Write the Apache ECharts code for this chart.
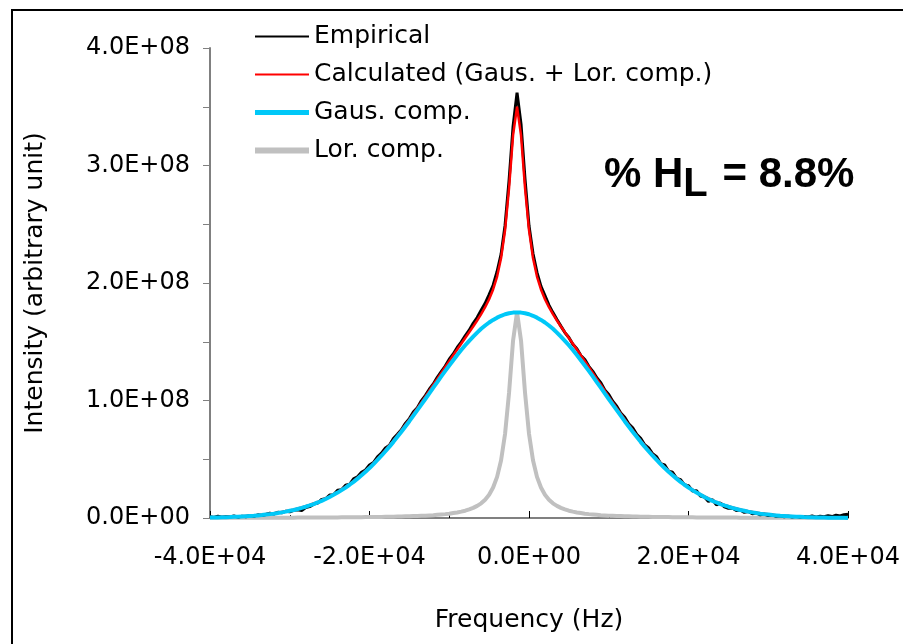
<!DOCTYPE html>
<html>
<head>
<meta charset="utf-8">
<title>Empirical vs. calculated line shape</title>
<script src="https://cdn.jsdelivr.net/npm/echarts@6/dist/echarts.min.js"></script>
<style>
  html, body { margin: 0; padding: 0; background: #fff; }
  #chart { width: 903px; height: 644px; }
</style>
</head>
<body>
<div id="chart"></div>
<script>
// Intensities are stored in units of 1E+08 (arbitrary unit).
const INTENSITY_UNIT = 1e8;

// Axis ticks
const freqTicksHz = [-40000, -20000, 0, 20000, 40000];
const intensityTicksE8 = [0, 1, 2, 3, 4];

// All curves are sampled every 500 Hz from -40000 Hz to +40000 Hz (161 samples)
const freqStartHz = -40000;
const freqStepHz = 500;

// Measured spectrum
const empiricalE8 = [
  0.012, 0.004, 0.015, 0.006, 0.013, 0.009, 0.018, 0.007, 0.016, 0.011,
  0.022, 0.015, 0.027, 0.021, 0.030, 0.041, 0.033, 0.049, 0.044, 0.058,
  0.052, 0.066, 0.071, 0.064, 0.089, 0.097, 0.118, 0.127, 0.158, 0.163,
  0.195, 0.198, 0.236, 0.241, 0.279, 0.287, 0.333, 0.351, 0.389, 0.409,
  0.451, 0.472, 0.521, 0.552, 0.596, 0.619, 0.677, 0.712, 0.751, 0.805,
  0.846, 0.901, 0.938, 0.997, 1.042, 1.096, 1.141, 1.197, 1.246, 1.293,
  1.352, 1.396, 1.451, 1.497, 1.551, 1.598, 1.657, 1.706, 1.768, 1.827,
  1.902, 1.981, 2.098, 2.246, 2.492, 2.873, 3.331, 3.620, 3.352, 2.884,
  2.487, 2.251, 2.090, 1.972, 1.893, 1.812, 1.748, 1.689, 1.633, 1.578,
  1.536, 1.479, 1.441, 1.382, 1.349, 1.291, 1.248, 1.193, 1.152, 1.089,
  1.051, 0.993, 0.952, 0.894, 0.857, 0.801, 0.768, 0.712, 0.679, 0.624,
  0.597, 0.546, 0.522, 0.463, 0.452, 0.398, 0.389, 0.337, 0.326, 0.281,
  0.275, 0.229, 0.232, 0.187, 0.178, 0.141, 0.156, 0.112, 0.128, 0.094,
  0.082, 0.086, 0.063, 0.069, 0.048, 0.055, 0.036, 0.043, 0.027, 0.033,
  0.021, 0.026, 0.014, 0.019, 0.010, 0.016, 0.008, 0.014, 0.006, 0.013,
  0.009, 0.017, 0.007, 0.015, 0.011, 0.019, 0.012, 0.024, 0.017, 0.028,
  0.031
];

// Calculated line shape (Gaussian + Lorentzian components)
const calculatedE8 = [
  0.006, 0.006, 0.007, 0.008, 0.009, 0.010, 0.012, 0.013, 0.015, 0.017,
  0.019, 0.021, 0.024, 0.027, 0.032, 0.036, 0.040, 0.045, 0.051, 0.057,
  0.064, 0.071, 0.081, 0.090, 0.100, 0.111, 0.123, 0.136, 0.151, 0.167,
  0.184, 0.202, 0.221, 0.243, 0.265, 0.289, 0.314, 0.342, 0.371, 0.402,
  0.433, 0.467, 0.503, 0.539, 0.578, 0.618, 0.659, 0.703, 0.747, 0.793,
  0.839, 0.887, 0.935, 0.984, 1.033, 1.083, 1.134, 1.184, 1.235, 1.285,
  1.335, 1.385, 1.434, 1.483, 1.532, 1.581, 1.630, 1.681, 1.735, 1.794,
  1.862, 1.945, 2.055, 2.213, 2.451, 2.810, 3.257, 3.500,
  3.257, 2.810, 2.451, 2.213, 2.055, 1.945, 1.862, 1.794, 1.735, 1.681,
  1.630, 1.581, 1.532, 1.483, 1.434, 1.385, 1.335, 1.285, 1.235, 1.184,
  1.134, 1.083, 1.033, 0.984, 0.935, 0.887, 0.839, 0.793, 0.747, 0.703,
  0.659, 0.618, 0.578, 0.539, 0.503, 0.467, 0.433, 0.402, 0.371, 0.342,
  0.314, 0.289, 0.265, 0.243, 0.221, 0.202, 0.184, 0.167, 0.151, 0.136,
  0.123, 0.111, 0.100, 0.090, 0.081, 0.071, 0.064, 0.057, 0.051, 0.045,
  0.040, 0.036, 0.032, 0.027, 0.024, 0.021, 0.019, 0.017, 0.015, 0.013,
  0.012, 0.010, 0.009, 0.008, 0.007, 0.006, 0.006, 0.005, 0.005, 0.004,
  0.004, 0.004, 0.003
];

// Gaussian component
const gausE8 = [
  0.004, 0.004, 0.005, 0.006, 0.007, 0.008, 0.010, 0.011, 0.013, 0.015,
  0.017, 0.019, 0.022, 0.025, 0.029, 0.033, 0.037, 0.042, 0.048, 0.054,
  0.061, 0.068, 0.077, 0.086, 0.096, 0.107, 0.119, 0.132, 0.146, 0.162,
  0.179, 0.197, 0.216, 0.237, 0.259, 0.283, 0.308, 0.335, 0.364, 0.394,
  0.425, 0.459, 0.494, 0.530, 0.568, 0.607, 0.648, 0.691, 0.734, 0.779,
  0.824, 0.871, 0.918, 0.965, 1.013, 1.061, 1.110, 1.157, 1.205, 1.252,
  1.298, 1.343, 1.387, 1.429, 1.470, 1.508, 1.544, 1.578, 1.610, 1.638,
  1.664, 1.686, 1.705, 1.721, 1.734, 1.743, 1.748, 1.750,
  1.748, 1.743, 1.734, 1.721, 1.705, 1.686, 1.664, 1.638, 1.610, 1.578,
  1.544, 1.508, 1.470, 1.429, 1.387, 1.343, 1.298, 1.252, 1.205, 1.157,
  1.110, 1.061, 1.013, 0.965, 0.918, 0.871, 0.824, 0.779, 0.734, 0.691,
  0.648, 0.607, 0.568, 0.530, 0.494, 0.459, 0.425, 0.394, 0.364, 0.335,
  0.308, 0.283, 0.259, 0.237, 0.216, 0.197, 0.179, 0.162, 0.146, 0.132,
  0.119, 0.107, 0.096, 0.086, 0.077, 0.068, 0.061, 0.054, 0.048, 0.042,
  0.037, 0.033, 0.029, 0.025, 0.022, 0.019, 0.017, 0.015, 0.013, 0.011,
  0.010, 0.008, 0.007, 0.006, 0.005, 0.004, 0.004, 0.003, 0.003, 0.002,
  0.002, 0.002, 0.001
];

// Lorentzian component
const lorE8 = [
  0.002, 0.002, 0.002, 0.002, 0.002, 0.002, 0.002, 0.002, 0.002, 0.002,
  0.002, 0.002, 0.002, 0.002, 0.003, 0.003, 0.003, 0.003, 0.003, 0.003,
  0.003, 0.003, 0.004, 0.004, 0.004, 0.004, 0.004, 0.004, 0.005, 0.005,
  0.005, 0.005, 0.005, 0.006, 0.006, 0.006, 0.006, 0.007, 0.007, 0.008,
  0.008, 0.008, 0.009, 0.009, 0.010, 0.011, 0.011, 0.012, 0.013, 0.014,
  0.015, 0.016, 0.017, 0.019, 0.020, 0.022, 0.024, 0.027, 0.030, 0.033,
  0.037, 0.042, 0.047, 0.054, 0.062, 0.073, 0.086, 0.103, 0.125, 0.156,
  0.198, 0.259, 0.350, 0.492, 0.717, 1.067, 1.509, 1.750,
  1.509, 1.067, 0.717, 0.492, 0.350, 0.259, 0.198, 0.156, 0.125, 0.103,
  0.086, 0.073, 0.062, 0.054, 0.047, 0.042, 0.037, 0.033, 0.030, 0.027,
  0.024, 0.022, 0.020, 0.019, 0.017, 0.016, 0.015, 0.014, 0.013, 0.012,
  0.011, 0.011, 0.010, 0.009, 0.009, 0.008, 0.008, 0.008, 0.007, 0.007,
  0.006, 0.006, 0.006, 0.006, 0.005, 0.005, 0.005, 0.005, 0.005, 0.004,
  0.004, 0.004, 0.004, 0.004, 0.004, 0.003, 0.003, 0.003, 0.003, 0.003,
  0.003, 0.003, 0.003, 0.002, 0.002, 0.002, 0.002, 0.002, 0.002, 0.002,
  0.002, 0.002, 0.002, 0.002, 0.002, 0.002, 0.002, 0.002, 0.002, 0.002,
  0.002, 0.002, 0.002
];

const seriesNames = ['Empirical', 'Calculated (Gaus. + Lor. comp.)', 'Gaus. comp.', 'Lor. comp.'];
const hlText = '8.8%';

// ---- build data pairs ----
const freqHz = empiricalE8.map((_, i) => freqStartHz + i * freqStepHz);
const toPairs = ys => ys.map((y, i) => [freqHz[i], y * INTENSITY_UNIT]);

// 4.0E+08 style labels
function sci(v) {
  const parts = Number(v).toExponential(1).split('e');
  const exp = parseInt(parts[1], 10);
  return parts[0] + 'E' + (exp < 0 ? '-' : '+') + String(Math.abs(exp)).padStart(2, '0');
}

const FONT = 'DejaVu Sans';
const AXIS_GRAY = '#808080';

const chart = echarts.init(document.getElementById('chart'), null, { renderer: 'canvas' });

chart.setOption({
  animation: false,
  backgroundColor: '#ffffff',
  grid: { left: 210, right: 53, top: 48, bottom: 126, containLabel: false },
  xAxis: {
    type: 'value',
    min: freqTicksHz[0],
    max: freqTicksHz[freqTicksHz.length - 1],
    interval: freqTicksHz[1] - freqTicksHz[0],
    name: 'Frequency (Hz)',
    nameLocation: 'middle',
    nameGap: 90,
    nameTextStyle: { fontFamily: FONT, fontSize: 25, color: '#000' },
    axisLine: { onZero: false, lineStyle: { color: AXIS_GRAY, width: 2 } },
    axisTick: { show: true, inside: true, length: 7, lineStyle: { color: '#000', width: 1 } },
    minorTick: { show: true, splitNumber: 2, length: 3, lineStyle: { color: '#000', width: 1 } },
    axisLabel: {
      margin: 28,
      fontFamily: FONT, fontSize: 24, color: '#000',
      formatter: v => sci(v)
    },
    splitLine: { show: false }
  },
  yAxis: {
    type: 'value',
    min: intensityTicksE8[0] * INTENSITY_UNIT,
    max: intensityTicksE8[intensityTicksE8.length - 1] * INTENSITY_UNIT,
    interval: 0.5 * INTENSITY_UNIT,
    name: 'Intensity (arbitrary unit)',
    nameLocation: 'middle',
    nameGap: 162,
    nameTextStyle: { fontFamily: FONT, fontSize: 25, color: '#000' },
    axisLine: { show: true, onZero: false, lineStyle: { color: AXIS_GRAY, width: 2 } },
    axisTick: { show: true, inside: false, length: 7, lineStyle: { color: AXIS_GRAY, width: 1 } },
    axisLabel: {
      margin: 20,
      fontFamily: FONT, fontSize: 24, color: '#000',
      formatter: v => {
        const isMajor = intensityTicksE8.some(t => Math.abs(t * INTENSITY_UNIT - v) < 1);
        return isMajor ? sci(v) : '';
      }
    },
    splitLine: { show: false }
  },
  legend: {
    orient: 'vertical',
    left: 252,
    top: 24,
    padding: 0,
    itemWidth: 54,
    itemHeight: 24,
    itemGap: 13,
    selectedMode: false,
    itemStyle: { opacity: 0 },
    textStyle: { fontFamily: FONT, fontSize: 25, color: '#000', lineHeight: 24 },
    data: [
      { name: seriesNames[0], lineStyle: { width: 2 } },
      { name: seriesNames[1], lineStyle: { width: 2 } },
      { name: seriesNames[2], lineStyle: { width: 5 } },
      { name: seriesNames[3], lineStyle: { width: 6 } }
    ]
  },
  graphic: [
    {
      type: 'rect',
      silent: true,
      z: -10,
      shape: { x: 12, y: 10, width: 1000, height: 1000 },
      style: { fill: 'none', stroke: '#000', lineWidth: 2 }
    },
    {
      type: 'text',
      left: 604,
      top: 154,
      silent: true,
      style: {
        text: '{a|% H}{s|L}{a| = ' + hlText + '}',
        rich: {
          a: { fontFamily: 'Liberation Sans', fontWeight: 'bold', fontSize: 42, lineHeight: 42, verticalAlign: 'top', fill: '#000' },
          s: { fontFamily: 'Liberation Sans', fontWeight: 'bold', fontSize: 40, lineHeight: 40, verticalAlign: 'top', padding: [11, 3, 0, 0], fill: '#000' }
        }
      }
    }
  ],
  series: [
    {
      name: seriesNames[3],
      type: 'line',
      data: toPairs(lorE8),
      showSymbol: false,
      z: 1,
      lineStyle: { color: '#c0c0c0', width: 4 },
      itemStyle: { color: '#c0c0c0' }
    },
    {
      name: seriesNames[0],
      type: 'line',
      data: toPairs(empiricalE8),
      showSymbol: false,
      z: 2,
      lineStyle: { color: '#000000', width: 3 },
      itemStyle: { color: '#000000' }
    },
    {
      name: seriesNames[1],
      type: 'line',
      data: toPairs(calculatedE8),
      showSymbol: false,
      z: 3,
      lineStyle: { color: '#ff0000', width: 2.5 },
      itemStyle: { color: '#ff0000' }
    },
    {
      name: seriesNames[2],
      type: 'line',
      data: toPairs(gausE8),
      showSymbol: false,
      z: 4,
      lineStyle: { color: '#00c8f8', width: 4 },
      itemStyle: { color: '#00c8f8' }
    }
  ]
});
</script>
</body>
</html>
